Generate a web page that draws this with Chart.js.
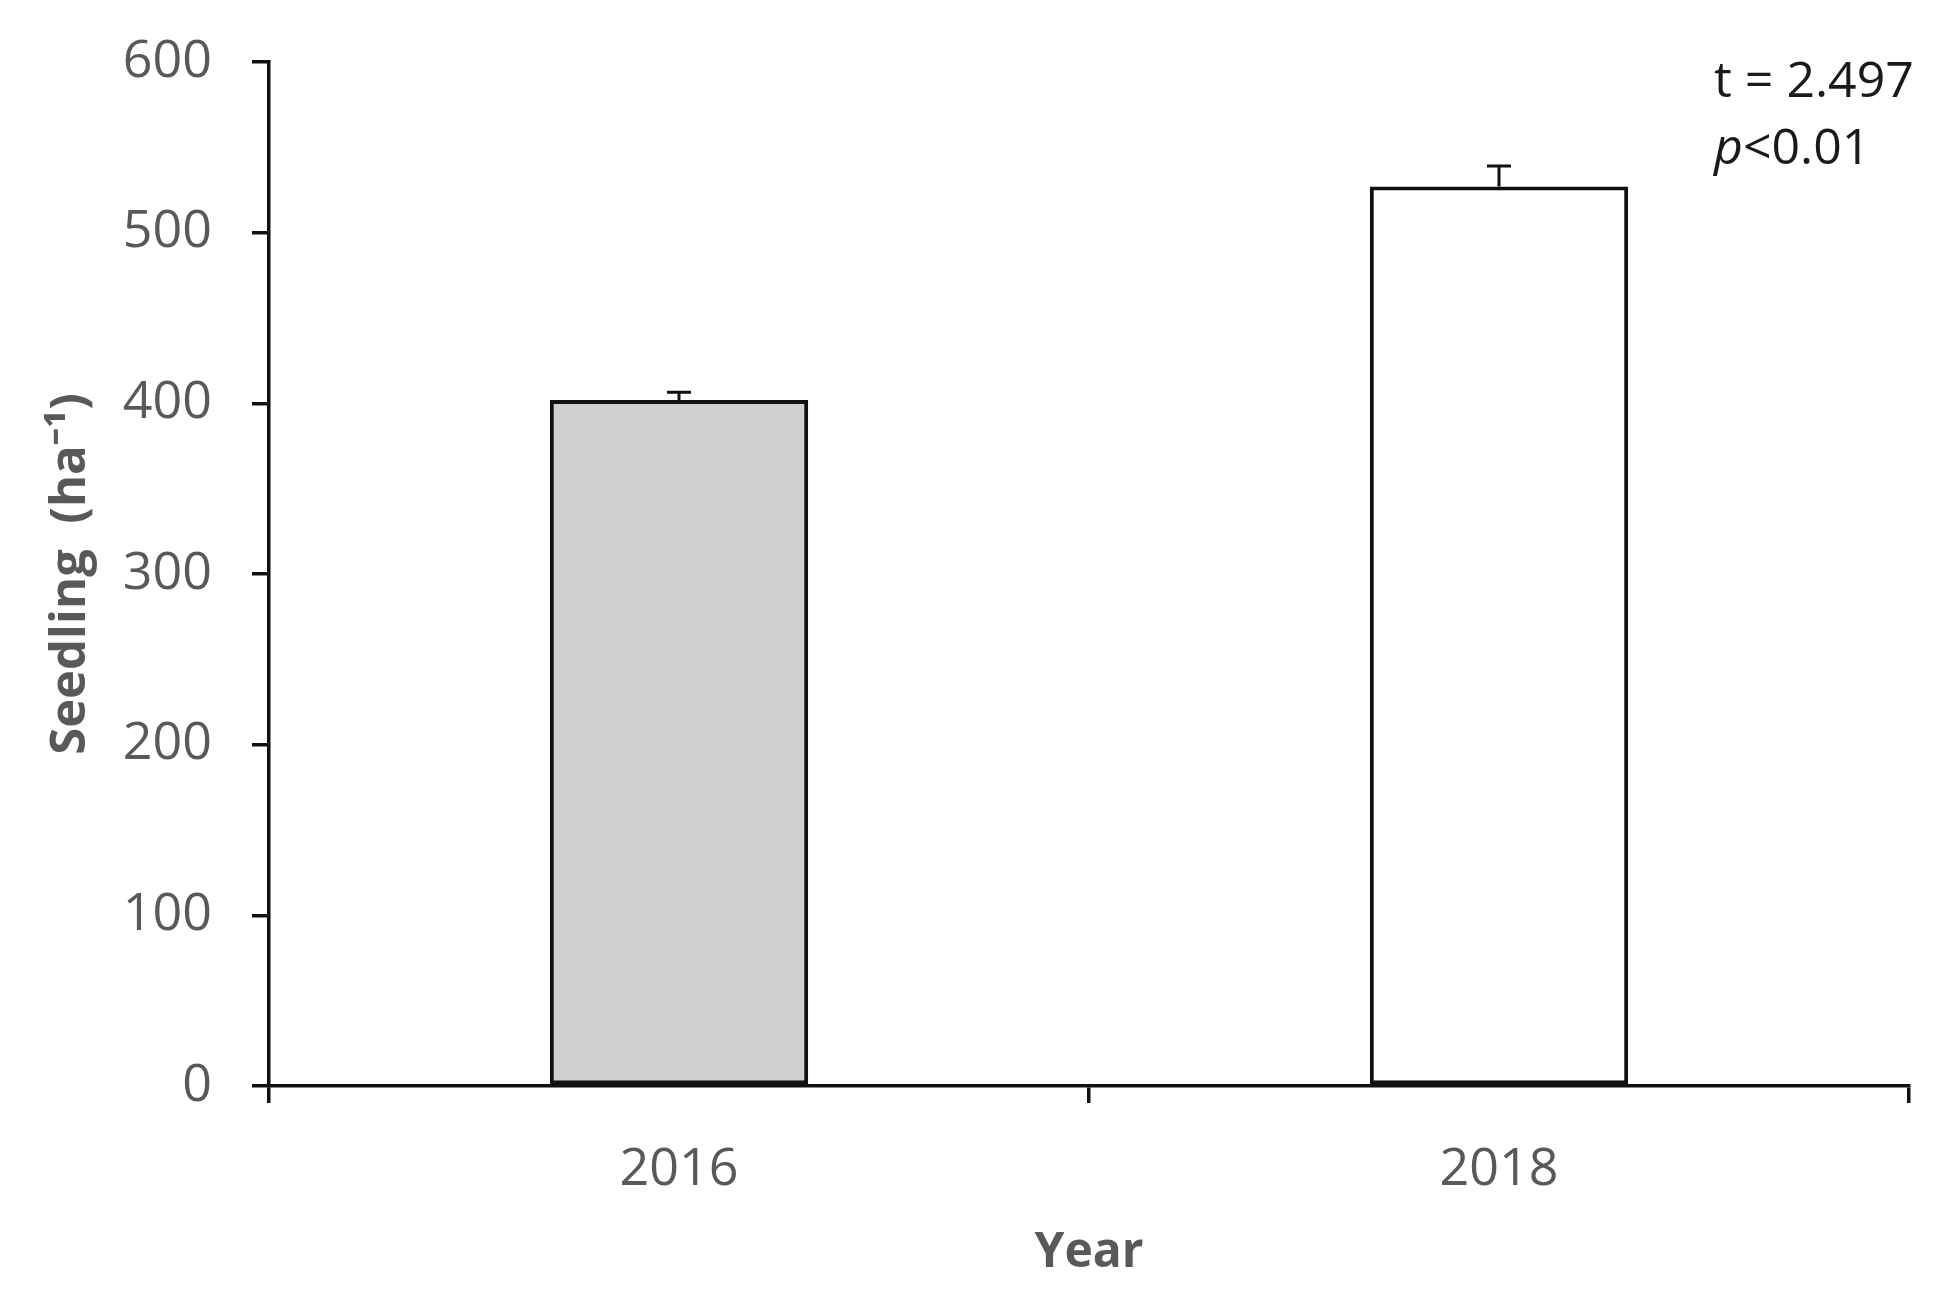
<!DOCTYPE html>
<html><head><meta charset="utf-8">
<script src="https://cdn.jsdelivr.net/npm/chart.js@4.4.1/dist/chart.umd.min.js"></script>
<style>html,body{margin:0;padding:0;background:#fff;}</style>
</head><body>
<canvas id="c" width="1959" height="1310"></canvas>
<script>
const categories = ['2016', '2018'];
const seedlingMeans = [402, 527];
const seedlingErrors = [4.5, 12];
const barFills = ['#d0cfd0', '#ffffff'];
const yTickValues = [0, 100, 200, 300, 400, 500, 600];
const statText = { t: 't = 2.497', p: 'p', rest: '<0.01' };

const FONT = '"Open Sans", "Liberation Sans", sans-serif';
const GRAY = '#595959';

const errorBarPlugin = {
  id: 'errorBars',
  afterDatasetsDraw(chart) {
    const ctx = chart.ctx;
    const meta = chart.getDatasetMeta(0);
    const yScale = chart.scales.y;
    ctx.save();
    ctx.strokeStyle = '#111';
    ctx.lineWidth = 3;
    meta.data.forEach((el, i) => {
      const top = yScale.getPixelForValue(seedlingMeans[i] + seedlingErrors[i]);
      const half = 12;
      ctx.beginPath();
      ctx.moveTo(el.x, el.y);
      ctx.lineTo(el.x, top);
      ctx.moveTo(el.x - half, top);
      ctx.lineTo(el.x + half, top);
      ctx.stroke();
    });
    ctx.restore();
  }
};

const statPlugin = {
  id: 'statText',
  afterDraw(chart) {
    const ctx = chart.ctx;
    ctx.save();
    ctx.fillStyle = '#1a1a1a';
    ctx.textBaseline = 'alphabetic';
    ctx.textAlign = 'left';
    ctx.font = '50px ' + FONT;
    const x0 = 1714;
    ctx.fillText(statText.t, x0, 97);
    ctx.font = 'italic 50px ' + FONT;
    ctx.fillText(statText.p, x0, 164);
    const w = ctx.measureText(statText.p).width;
    ctx.font = '50px ' + FONT;
    ctx.fillText(statText.rest, x0 + w, 164);
    ctx.restore();
  }
};

new Chart(document.getElementById('c'), {
  type: 'bar',
  data: {
    labels: categories,
    datasets: [{
      data: seedlingMeans,
      backgroundColor: barFills,
      borderColor: '#111',
      borderWidth: 4,
      borderSkipped: false,
      categoryPercentage: 1,
      barPercentage: 0.315
    }]
  },
  options: {
    responsive: false,
    animation: false,
    devicePixelRatio: 1,
    layout: { padding: { left: 0, top: 62, right: 50, bottom: 0 } },
    plugins: { legend: { display: false }, tooltip: { enabled: false } },
    scales: {
      x: {
        offset: true,
        grid: { display: true, offset: true, drawOnChartArea: false, drawTicks: true, tickLength: 17, lineWidth: 3.5, color: '#111' },
        border: { display: true, color: '#111', width: 3.5 },
        ticks: { color: GRAY, font: { family: FONT, size: 52 }, padding: 36 },
        title: { display: true, text: 'Year', color: GRAY, font: { family: FONT, size: 48, weight: 'bold' }, padding: { top: 0, bottom: 28 } },
        afterFit(scale) { scale.height = 1310 - 1086; scale.paddingLeft = 0; scale.paddingRight = 0; }
      },
      y: {
        min: 0, max: 600,
        afterBuildTicks(scale) { scale.ticks = yTickValues.map(v => ({ value: v })); },
        grid: { display: true, drawOnChartArea: false, drawTicks: true, tickLength: 17, lineWidth: 3.5, color: '#111' },
        border: { display: true, color: '#111', width: 3.5 },
        ticks: { color: GRAY, font: { family: FONT, size: 52 }, padding: 40 },
        title: { display: true, text: 'Seedling  (ha⁻¹)', color: GRAY, font: { family: FONT, size: 49, weight: 'bold' }, padding: { top: 42, bottom: 0 } },
        afterFit(scale) { scale.width = 269; scale.paddingTop = 0; scale.paddingBottom = 0; }
      }
    }
  },
  plugins: [errorBarPlugin, statPlugin]
});
</script>
</body></html>
